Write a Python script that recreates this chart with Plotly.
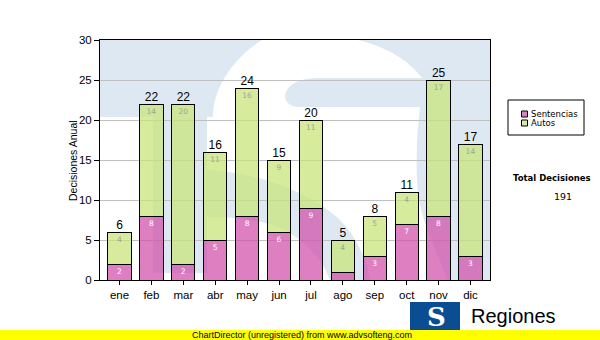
import plotly.graph_objects as go

# Monthly decisions, split by type
months = ["ene", "feb", "mar", "abr", "may", "jun", "jul", "ago", "sep", "oct", "nov", "dic"]
sentencias = [2, 8, 2, 5, 8, 6, 9, 1, 3, 7, 8, 3]
autos = [4, 14, 20, 11, 16, 9, 11, 4, 5, 4, 17, 14]
series_names = ["Sentencias", "Autos"]

totals = [s + a for s, a in zip(sentencias, autos)]
grand_total = sum(totals)

# plot-area geometry in page pixels (used only for decorations)
PL, PR, PT, PB = 100, 490, 40, 280
W, H = 600, 340


def dx(X):
    return (X - PL) / (PR - PL)


def dy(Y):
    return (PB - Y) / (PB - PT)


def path(cmds):
    """Build an SVG path in domain fractions from pixel-space commands."""
    out = []
    for c in cmds:
        if isinstance(c, str):
            out.append(c)
        else:
            out.append(f"{dx(c[0]):.4f},{dy(c[1]):.4f}")
    return " ".join(out)


PINK = "rgba(208,78,168,0.72)"
GREEN = "rgba(198,228,118,0.72)"
PINK_SOLID = "#de80c2"
GREEN_SOLID = "#d6eca0"
WM = "#dee8f2"

fig = go.Figure()

fig.add_trace(go.Bar(
    x=months, y=sentencias, name=series_names[0],
    marker=dict(color=PINK, line=dict(color="black", width=1)),
    text=[str(v) if v > 1 else "" for v in sentencias],
    textposition="inside", insidetextanchor="end", textangle=0,
    textfont=dict(family="DejaVu Sans", size=7.5, color="white"),
    hoverinfo="x+y+name",
))
fig.add_trace(go.Bar(
    x=months, y=autos, name=series_names[1],
    marker=dict(color=GREEN, line=dict(color="black", width=1)),
    text=[str(v) for v in autos],
    textposition="inside", insidetextanchor="end", textangle=0,
    textfont=dict(family="DejaVu Sans", size=7.5, color="#a0a0a0"),
    hoverinfo="x+y+name",
))
# stack totals above each bar
fig.add_trace(go.Scatter(
    x=months, y=totals, mode="text", text=[str(t) for t in totals],
    textposition="top center",
    textfont=dict(family="Liberation Sans", size=12, color="black"),
    showlegend=False, hoverinfo="skip", cliponaxis=False,
))

# faint logo watermark behind the bars
wm_paths = [
    # T shape (top bar + stem)
    ["M", (100, 40), "L", (262, 40), "C", (236, 56), (213, 86), (213, 117),
     "L", (207, 117), "L", (207, 273), "L", (153, 273), "L", (153, 117),
     "L", (100, 117), "Z"],
    # lower counter of the S
    ["M", (207, 170), "C", (255, 172), (305, 190), (338, 218),
     "C", (357, 237), (366, 258), (370, 280), "L", (330, 280),
     "C", (322, 258), (305, 240), (280, 228),
     "C", (258, 219), (232, 217), (207, 217), "Z"],
    # right side + upper counter
    ["M", (358, 40), "L", (490, 40), "L", (490, 280), "L", (448, 280),
     "C", (438, 255), (426, 232), (420, 205),
     "C", (415, 180), (416, 140), (420, 107), "L", (300, 107),
     "C", (287, 107), (282, 98), (287, 90),
     "C", (292, 82), (303, 78), (318, 78), "L", (422, 78),
     "C", (410, 62), (390, 48), (358, 40), "Z"],
]
shapes = []
for p in wm_paths:
    shapes.append(dict(type="path", xref="x domain", yref="y domain",
                       path=path(p), fillcolor=WM, line=dict(width=0),
                       layer="below"))

# legend box drawn by hand
LX0, LY0, LX1, LY1 = 508, 100, 584, 135

shapes.append(dict(type="rect", xref="paper", yref="paper",
                   x0=dx(LX0), x1=dx(LX1), y0=dy(LY1), y1=dy(LY0),
                   line=dict(color="black", width=1), fillcolor="white"))
legend_rows = [(series_names[0], PINK_SOLID, 114), (series_names[1], GREEN_SOLID, 123)]
annotations = []
for name, col, yc in legend_rows:
    shapes.append(dict(type="rect", xref="paper", yref="paper",
                       x0=dx(521.5), x1=dx(527.5), y0=dy(yc + 3), y1=dy(yc - 3),
                       line=dict(color="black", width=1), fillcolor=col))
    annotations.append(dict(xref="paper", yref="paper", x=dx(528.5), y=dy(yc),
                            xanchor="left", yanchor="middle", showarrow=False,
                            text=name, font=dict(family="DejaVu Sans", size=8.5, color="black")))

annotations.append(dict(xref="paper", yref="paper", x=dx(551.5), y=dy(178),
                        xanchor="center", yanchor="middle", showarrow=False,
                        text="<b>Total Decisiones</b>",
                        font=dict(family="DejaVu Sans", size=8.5, color="black")))
annotations.append(dict(xref="paper", yref="paper", x=dx(563), y=dy(196),
                        xanchor="center", yanchor="middle", showarrow=False,
                        text=str(grand_total),
                        font=dict(family="DejaVu Sans", size=9.5, color="black")))

# y axis title
annotations.append(dict(xref="paper", yref="paper", x=dx(73), y=dy(161),
                        xanchor="center", yanchor="middle", showarrow=False,
                        textangle=-90, text="Decisiones Anual",
                        font=dict(family="Liberation Sans", size=10.5, color="black")))

# footer logo
shapes.append(dict(type="rect", xref="paper", yref="paper",
                   x0=dx(410), x1=dx(460), y0=dy(340), y1=dy(302),
                   line=dict(width=0), fillcolor="#0b4d93"))
annotations.append(dict(xref="paper", yref="paper", x=dx(436), y=dy(317),
                        xanchor="center", yanchor="middle", showarrow=False,
                        text="<b>S</b>",
                        font=dict(family="DejaVu Serif", size=26, color="white")))
annotations.append(dict(xref="paper", yref="paper", x=dx(469), y=dy(316),
                        xanchor="left", yanchor="middle", showarrow=False,
                        text="Regiones",
                        font=dict(family="Liberation Sans", size=20, color="black")))
annotations.append(dict(xref="paper", yref="paper", x=dx(469), y=dy(334),
                        xanchor="left", yanchor="middle", showarrow=False,
                        text="Tribunal Supremo de Justicia",
                        font=dict(family="Liberation Sans", size=9, color="black")))
# yellow banner across the bottom
annotations.append(dict(xref="paper", yref="paper", x=dx(0), y=dy(340),
                        xanchor="left", yanchor="bottom", showarrow=False,
                        text=" ", width=W, height=10, bgcolor="#ffff00",
                        borderpad=0, borderwidth=0, font=dict(size=6)))
annotations.append(dict(xref="paper", yref="paper", x=dx(190), y=dy(335),
                        xanchor="left", yanchor="middle", showarrow=False,
                        text="ChartDirector (unregistered) from www.advsofteng.com",
                        font=dict(family="Liberation Sans", size=9, color="black")))

fig.update_layout(
    width=W, height=H,
    margin=dict(l=PL, r=W - PR, t=PT, b=H - PB, pad=0),
    paper_bgcolor="white", plot_bgcolor="white",
    barmode="stack", bargap=0.27,
    showlegend=False,
    shapes=shapes, annotations=annotations,
    font=dict(family="Liberation Sans", size=11, color="black"),
    xaxis=dict(type="category", showline=True, linecolor="black", linewidth=1,
               mirror=True, ticks="outside", ticklen=4, tickcolor="black",
               showgrid=False, tickfont=dict(size=11.5)),
    yaxis=dict(range=[0, 30], dtick=5, showline=True, linecolor="black",
               linewidth=1, mirror=True, ticks="outside", ticklen=5,
               tickcolor="black", gridcolor="#c0c0c0", gridwidth=1,
               zeroline=False, tickfont=dict(size=11.5)),
)

fig.write_html("out.html")
